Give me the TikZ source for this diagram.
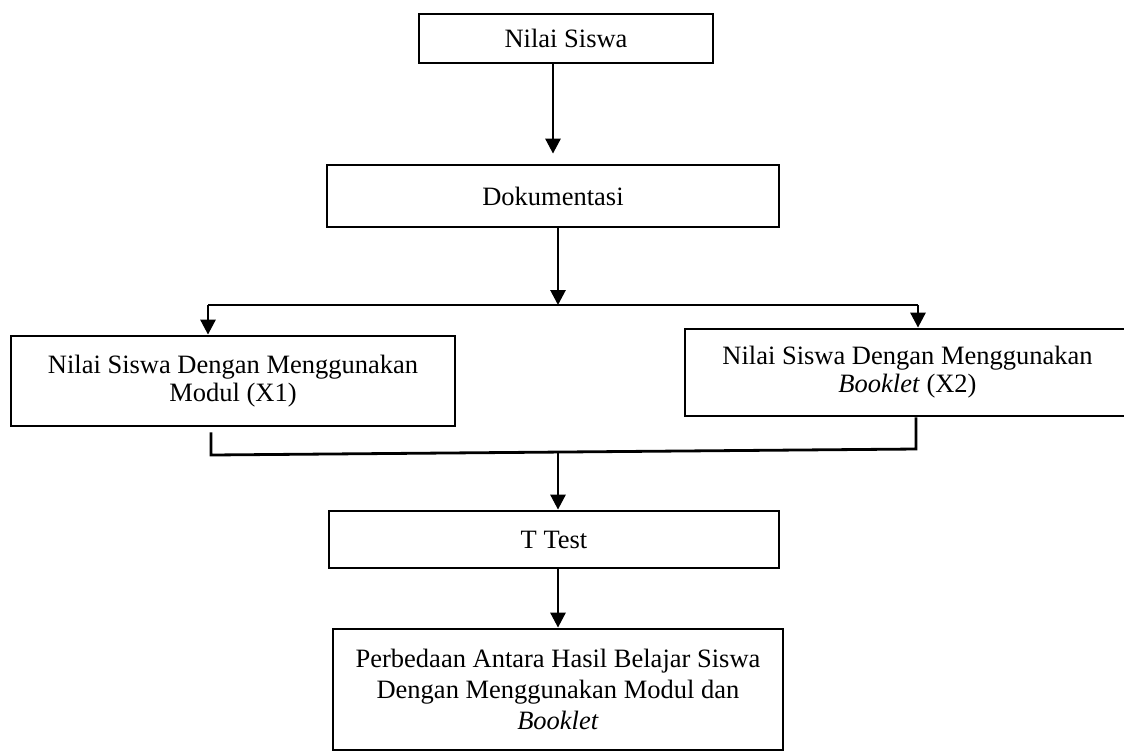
\documentclass[tikz,border=0pt]{standalone}
\usepackage{fontspec}
\setmainfont{Liberation Serif}
\usetikzlibrary{arrows.meta}
\begin{document}
\begin{tikzpicture}[x=0.5pt, y=-0.5pt,
  every node/.style = {shape=rectangle,
    draw, align=center, line width=1.4pt, inner sep=0pt,
    font=\fontsize{13.25}{14}\selectfont},
  tall/.style  = {font=\fontsize{13.25}{15.5}\selectfont},
  arr/.style = {line width=1.4pt, -{Triangle[length=7.5pt,width=7.5pt]}},
  link/.style = {line width=1.4pt}]
\useasboundingbox (0,0) rectangle (1124,752);
\clip (0,0) rectangle (1124,752);
\node (nilai) [minimum width=147pt, minimum height=24.5pt] at (566,38.5) {Nilai Siswa};
\node (dok) [minimum width=226pt, minimum height=31pt] at (553,196) {Dokumentasi};
\node (modul) [minimum width=222pt, minimum height=45pt] at (233,381)
  {Nilai Siswa Dengan Menggunakan\\Modul (X1)};
\node (booklet) [minimum width=222.5pt, minimum height=43.5pt] at (907.5,372.5)
  {Nilai Siswa Dengan Menggunakan\\\textit{Booklet} (X2)};
\node (ttest) [minimum width=225pt, minimum height=28.5pt] at (554,539.5) {T Test};
\node (beda) [tall, minimum width=225pt, minimum height=60.5pt] at (558,689.5)
  {Perbedaan Antara Hasil Belajar Siswa\\Dengan Menggunakan Modul dan\\\textit{Booklet}};
% split and join points
\coordinate (split) at (558,305);
\coordinate (sl) at (208,305);
\coordinate (sr) at (918,305);
\coordinate (jl) at (211,455);
\coordinate (jr) at (916,449);
\coordinate (join) at (558,452);
\draw[arr, shorten >=5pt] (nilai.south -| dok.north) -- (dok.north);
\draw[arr] (dok.south -| split) -- (split);
\draw[link] (sl) -- (sr);
\draw[arr] (sl) -- (sl |- modul.north);
\draw[arr] (sr) -- (sr |- booklet.north);
\draw[link] ([yshift=-2.5pt]modul.south -| jl) -- (jl) -- (jr) -- (booklet.south -| jr);
\draw[arr] (join) -- (ttest.north -| join);
\draw[arr] (ttest.south -| beda.north) -- (beda.north);
\end{tikzpicture}
\end{document}
